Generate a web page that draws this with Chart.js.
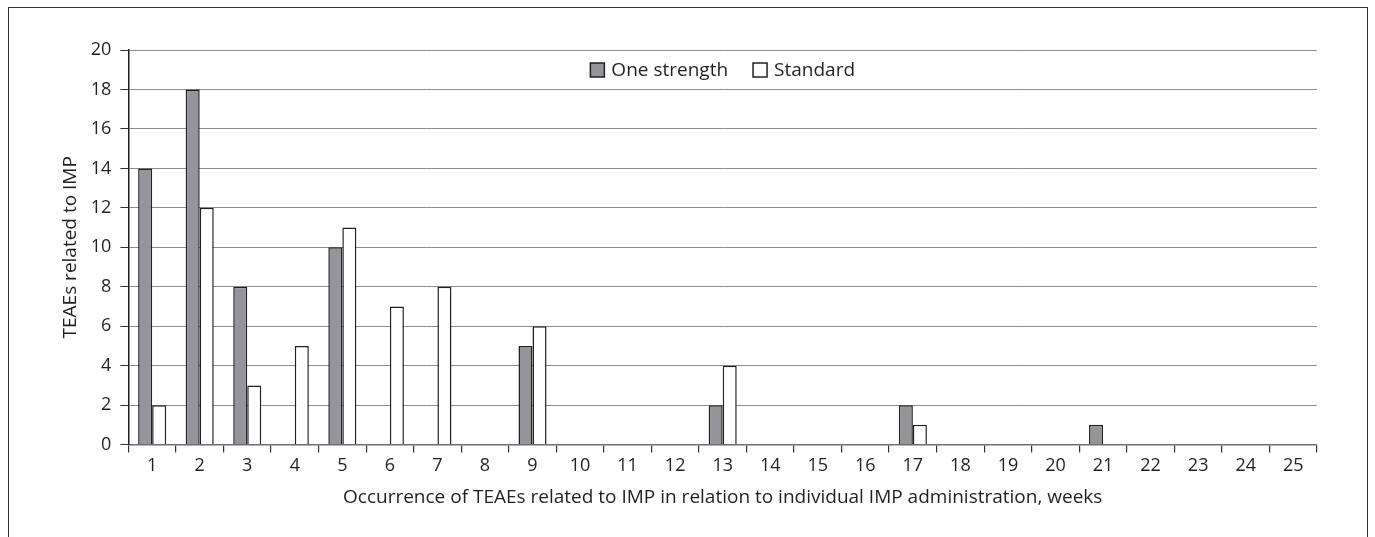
<!DOCTYPE html>
<html>
<head>
<meta charset="utf-8">
<script src="https://cdn.jsdelivr.net/npm/chart.js@4.4.1/dist/chart.umd.min.js"></script>
<style>
  html, body { margin: 0; padding: 0; background: #fff; overflow: hidden; }
  #frame { position: absolute; left: 8px; top: 7px; width: 1358px; height: 600px; border: 1.5px solid #333; }
  #myChart { position: absolute; left: 0; top: 0; }
</style>
</head>
<body>
<div id="frame"></div>
<canvas id="myChart" width="1375" height="537"></canvas>
<script>
// Semanas (categorías) y valores
var semanas = ["1","2","3","4","5","6","7","8","9","10","11","12","13","14","15","16","17","18","19","20","21","22","23","24","25"];
var unaConcentracion = [14, 18, 8, 0, 10, 0, 0, 0, 5, 0, 0, 0, 2, 0, 0, 0, 2, 0, 0, 0, 1, 0, 0, 0, 0];
var estandar = [2, 12, 3, 5, 11, 7, 8, 0, 6, 0, 0, 0, 4, 0, 0, 0, 1, 0, 0, 0, 0, 0, 0, 0, 0];
var etiquetasSeries = ["One strength", "Standard"];

var fuente = { family: "'Open Sans', 'Noto Sans', sans-serif", size: 18 };
var fuenteTexto = { family: "'Open Sans', 'Noto Sans', sans-serif", size: 19 };
var tinta = "#231f20";

// Leyenda dibujada dentro del área del gráfico (arriba, centrada)
var leyendaInterna = {
    id: 'leyendaInterna',
    afterDraw: function(chart) {
        var ctx = chart.ctx;
        var area = chart.chartArea;
        var caja = 14, hueco = 7, sep = 25;
        ctx.save();
        ctx.font = fuenteTexto.size + "px " + fuenteTexto.family;
        var anchos = chart.data.datasets.map(function(ds) { return ctx.measureText(ds.label).width; });
        var total = 0;
        anchos.forEach(function(w, i) { total += caja + hueco + w + (i > 0 ? sep : 0); });
        var x = (area.left + area.right) / 2 - total / 2;
        var y = area.top + 20;
        chart.data.datasets.forEach(function(ds, i) {
            ctx.fillStyle = ds.backgroundColor;
            ctx.fillRect(x, y - caja / 2, caja, caja);
            ctx.lineWidth = 1.5;
            ctx.strokeStyle = ds.borderColor;
            ctx.strokeRect(x, y - caja / 2, caja, caja);
            ctx.fillStyle = tinta;
            ctx.textBaseline = 'middle';
            ctx.fillText(ds.label, x + caja + hueco, y + 1);
            x += caja + hueco + anchos[i] + sep;
        });
        ctx.restore();
    }
};

var ctx = document.getElementById('myChart').getContext('2d');
var myChart = new Chart(ctx, {
    type: 'bar',
    data: {
        labels: semanas,
        datasets: [{
            label: etiquetasSeries[0],
            data: unaConcentracion,
            backgroundColor: "#939598",
            borderColor: tinta,
            borderWidth: 1.5,
            barPercentage: 1,
            categoryPercentage: 0.59
        }, {
            label: etiquetasSeries[1],
            data: estandar,
            backgroundColor: "#ffffff",
            borderColor: tinta,
            borderWidth: 1.5,
            barPercentage: 1,
            categoryPercentage: 0.59
        }]
    },
    options: {
        responsive: false,
        animation: false,
        layout: { padding: { left: 59, right: 58, top: 50, bottom: 24 } },
        scales: {
            x: {
                grid: { offset: true, drawOnChartArea: false, tickLength: 8, color: "#333", lineWidth: 1.2 },
                border: { color: "#6d6e71", width: 1.5 },
                ticks: { color: tinta, font: fuente, padding: 2, maxRotation: 0, autoSkip: false },
                title: {
                    display: true,
                    text: "Occurrence of TEAEs related to IMP in relation to individual IMP administration, weeks",
                    color: tinta, font: fuenteTexto, padding: { top: 8, bottom: 4 }
                }
            },
            y: {
                min: 0,
                max: 20,
                ticks: { stepSize: 2, color: tinta, font: fuente, padding: 9 },
                grid: { color: "#8c8c8c", lineWidth: 1, tickLength: 8, tickColor: "#333" },
                border: { color: tinta, width: 1.5 },
                title: {
                    display: true,
                    text: "TEAEs related to IMP",
                    color: tinta, font: fuenteTexto, padding: { top: 0, bottom: 0 }
                }
            }
        },
        plugins: {
            legend: { display: false },
            tooltip: { enabled: false }
        }
    },
    plugins: [leyendaInterna]
});
</script>
</body>
</html>
